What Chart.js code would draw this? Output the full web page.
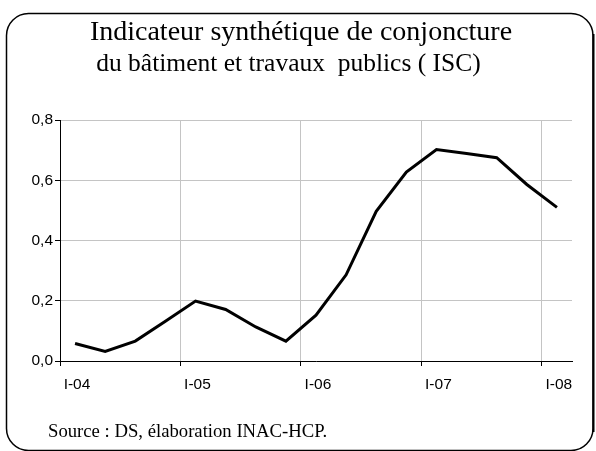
<!DOCTYPE html>
<html>
<head>
<meta charset="utf-8">
<script src="https://cdn.jsdelivr.net/npm/chart.js@4/dist/chart.umd.min.js"></script>
<style>
  html, body { margin: 0; padding: 0; background: #fff; }
  canvas { display: block; }
</style>
</head>
<body>
<canvas id="iscChart" width="596" height="451"></canvas>
<script>
// quarters I-04 .. I-08
const quarters = ['I-04', 'II-04', 'III-04', 'IV-04', 'I-05', 'II-05', 'III-05', 'IV-05',
    'I-06', 'II-06', 'III-06', 'IV-06', 'I-07', 'II-07', 'III-07', 'IV-07', 'I-08'];
const iscValues = [0.058, 0.032, 0.066, 0.132, 0.199, 0.171, 0.113, 0.066,
    0.152, 0.286, 0.497, 0.627, 0.702, 0.689, 0.675, 0.586, 0.51];
const xTickLabels = ['I-04', 'I-05', 'I-06', 'I-07', 'I-08'];
const yTicks = [0, 0.2, 0.4, 0.6, 0.8];

const titleLine1 = 'Indicateur synthétique de conjoncture';
const titleLine2 = 'du bâtiment et travaux  publics ( ISC)';
const sourceText = 'Source : DS, élaboration INAC-HCP.';

const framePlugin = {
    id: 'frame',
    afterDraw(chart) {
        const ctx = chart.ctx;
        ctx.save();
        ctx.strokeStyle = '#000';
        ctx.lineWidth = 1.5;
        ctx.beginPath();
        ctx.roundRect(6.5, 13.5, 586.5, 437, 22);
        ctx.stroke();
        // heavier right edge (shadow look)
        ctx.lineWidth = 2;
        ctx.beginPath();
        ctx.moveTo(593.5, 34);
        ctx.lineTo(593.5, 432);
        ctx.stroke();

        ctx.fillStyle = '#000';
        ctx.textAlign = 'center';
        ctx.textBaseline = 'alphabetic';
        ctx.font = '28px "Liberation Serif", "Times New Roman", serif';
        ctx.fillText(titleLine1, 301, 40);
        ctx.font = '25.5px "Liberation Serif", "Times New Roman", serif';
        ctx.fillText(titleLine2, 288.5, 71);
        ctx.textAlign = 'left';
        ctx.font = '18.7px "Liberation Serif", "Times New Roman", serif';
        ctx.fillText(sourceText, 48, 437);
        ctx.restore();
    }
};

const canvas = document.getElementById('iscChart');

new Chart(canvas, {
    type: 'line',
    data: {
        datasets: [{
            label: 'ISC',
            data: iscValues.map((v, i) => ({ x: i + 0.5, y: v })),
            borderColor: '#000',
            borderWidth: 3,
            pointRadius: 0,
            tension: 0,
            fill: false
        }]
    },
    options: {
        responsive: false,
        animation: false,
        layout: {
            padding: { top: 120, left: 0, right: 24, bottom: 60 }
        },
        plugins: {
            legend: { display: false },
            tooltip: { enabled: false }
        },
        scales: {
            x: {
                type: 'linear',
                min: 0,
                max: quarters.length,
                afterBuildTicks: function (scale) {
                    scale.ticks = xTickLabels.map((t, i) => ({ value: i * 4 }));
                },
                afterFit: function (scale) {
                    scale.height = 30;
                },
                ticks: {
                    callback: function (value) {
                        return xTickLabels[value / 4];
                    },
                    labelOffset: 17,
                    maxRotation: 0,
                    autoSkip: false,
                    padding: 9,
                    color: '#000',
                    font: { family: '"Liberation Sans", Arial, sans-serif', size: 15.5 }
                },
                grid: {
                    color: '#c4c4c4',
                    tickColor: '#000',
                    tickLength: 5,
                    lineWidth: 1
                },
                border: { color: '#000', width: 1 }
            },
            y: {
                min: 0,
                max: 0.8,
                afterBuildTicks: function (scale) {
                    scale.ticks = yTicks.map(v => ({ value: v }));
                },
                afterFit: function (scale) {
                    scale.width = 60;
                },
                ticks: {
                    callback: function (value) {
                        return value.toFixed(1).replace('.', ',');
                    },
                    padding: 2,
                    color: '#000',
                    font: { family: '"Liberation Sans", Arial, sans-serif', size: 15.5 }
                },
                grid: {
                    color: '#c4c4c4',
                    tickColor: '#000',
                    tickLength: 5,
                    lineWidth: 1
                },
                border: { color: '#000', width: 1 }
            }
        }
    },
    plugins: [framePlugin]
});
</script>
</body>
</html>
